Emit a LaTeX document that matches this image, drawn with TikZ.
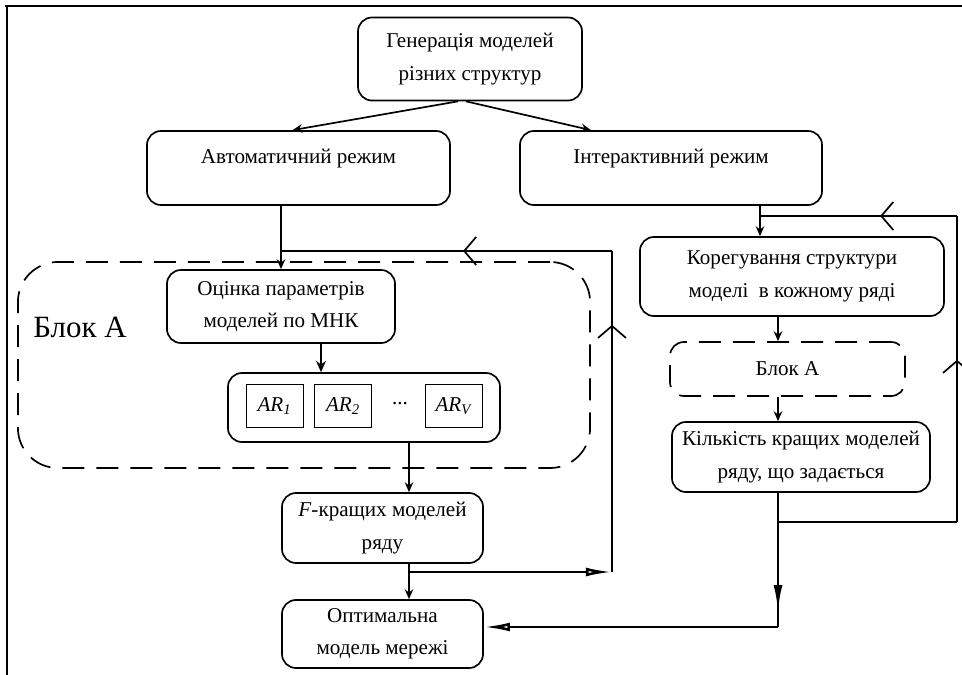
\documentclass[tikz,border=0pt]{standalone}
\usepackage{fontspec}
\setmainfont{Liberation Serif}
\usetikzlibrary{arrows.meta, positioning, calc, decorations.markings}

\tikzset{
  box/.style={draw, rounded corners=0.35cm, line width=1.2pt, align=center, inner sep=2pt},
  dbox/.style={box, dash pattern=on 0.55cm off 0.3cm},
  arbox/.style={draw, line width=0.7pt, minimum width=1.425cm, minimum height=1.075cm, inner sep=0pt},
  line/.style={line width=1.2pt},
  arr/.style={line, -{Stealth[length=7pt, width=6pt]}},
  tri/.style={line, -{Latex[open, length=0.65cm, width=0.22cm, line width=1.8pt]}},
  chev/.style={line, postaction={decorate}, decoration={markings,
    mark=at position #1 with {\arrow{Straight Barb[length=0.3cm, width=0.7cm, line width=1.2pt]}}}},
  midtri/.style={line, postaction={decorate}, decoration={markings,
    mark=at position #1 with {\arrow{Latex[open, length=0.65cm, width=0.22cm, line width=1.8pt]}}}}
}

\begin{document}
\begin{tikzpicture}[x=0.025cm, y=-0.025cm, font=\fontsize{15}{23}\selectfont]
\useasboundingbox (0,0) rectangle (962,675);

% frame
\draw[line width=1.5pt] (5,6) -- (962,6);
\draw[line width=1.5pt] (7,6) -- (7,675);

% top part
\node[box, minimum width=5.6cm, minimum height=2.075cm] (gen) at (470,59) {Генерація моделей\\різних структур};
\node[box, minimum width=7.575cm, minimum height=1.85cm] (auto) at (298.5,168) {Автоматичний режим\\[-6pt]\mbox{}};
\node[box, minimum width=7.55cm, minimum height=1.85cm] (inter) at (671,168) {Інтерактивний режим\\[-6pt]\mbox{}};

\draw[arr] ([xshift=-0.3cm]gen.south) -- ([xshift=-0.15cm]auto.north);
\draw[arr] ([xshift=-0.1cm]gen.south) -- ([xshift=-2cm]inter.north);

% block A (left)
\node[dbox, rounded corners=1cm, minimum width=14.3cm, minimum height=5.15cm] (blokA) at (304,365) {};
\node[font=\fontsize{22}{26}\selectfont] (blokAl) at (80,327) {Блок А};
\node[box, minimum width=5.7cm, minimum height=1.825cm] (est) at (281,306.5) {Оцінка параметрів\\моделей по МНК};
\node[box, minimum width=6.8cm, minimum height=1.725cm] (cont) at (364,407.5) {};
\node[arbox] (ar1) at (274.5,406) {\textit{AR}\textsubscript{\textit{1}}};
\node[arbox] (ar2) at (343,406) {\textit{AR}\textsubscript{\textit{2}}};
\node (dots) at (400,404) {...};
\node[arbox] (arv) at (454,406) {\textit{AR}\textsubscript{\textit{V}}};

\node[box, minimum width=5.025cm, minimum height=1.75cm] (best) at (382.5,528) {\textit{F}-кращих моделей\\ряду};
\node[box, minimum width=5.025cm, minimum height=1.7cm] (opt) at (382.5,634) {Оптимальна\\модель мережі};

\coordinate (jA) at (281,251);
\coordinate (jF) at (409,572);
\coordinate (rF) at (612,572);
\coordinate (tF) at (612,251);

\draw[arr] (auto.south -| est.north) -- (est.north);
\draw[line width=1.8pt, -{Stealth[length=8pt, width=7pt]}] ([xshift=1cm]est.south) -- ([xshift=1cm]est.south |- cont.north);
\draw[arr] (cont.south -| jF) -- (best.north -| jF);
\draw[arr] (best.south -| jF) -- (opt.north -| jF);
\draw[tri] (jF) -- (rF);
\draw[chev=0.77] (rF) -- (tF);
\draw[chev=0.45] (tF) -- (jA);

% right part
\node[box, minimum width=7.6cm, minimum height=1.975cm] (kor) at (792,276.5) {Корегування структури\\моделі \ в кожному ряді};
\node[dbox, minimum width=5.875cm, minimum height=1.35cm] (blokS) at (787.5,369) {Блок А};
\node[box, minimum width=6.45cm, minimum height=1.75cm] (kil) at (801,457) {Кількість кращих моделей\\ряду, що задається};

\coordinate (jI) at (760,216);
\coordinate (tK) at (957,216);
\coordinate (jK) at (778,522);
\coordinate (rK) at (957,522);
\coordinate (cK) at (778,627);

\draw[line] (inter.south -| jI) -- (jI);
\draw[arr] (jI) -- (kor.north -| jI);
\draw[arr] (kor.south -| jK) -- (blokS.north -| jK);
\draw[arr] (blokS.south -| jK) -- (kil.north -| jK);
\draw[line] (kil.south -| jK) -- (jK);
\draw[midtri=0.85] (jK) -- (cK);
\draw[tri] (cK) -- (opt.east |- cK);
\draw[line] (jK) -- (rK);
\draw[chev=0.53] (rK) -- (tK);
\draw[chev=0.39] (tK) -- (jI);

\end{tikzpicture}
\end{document}
